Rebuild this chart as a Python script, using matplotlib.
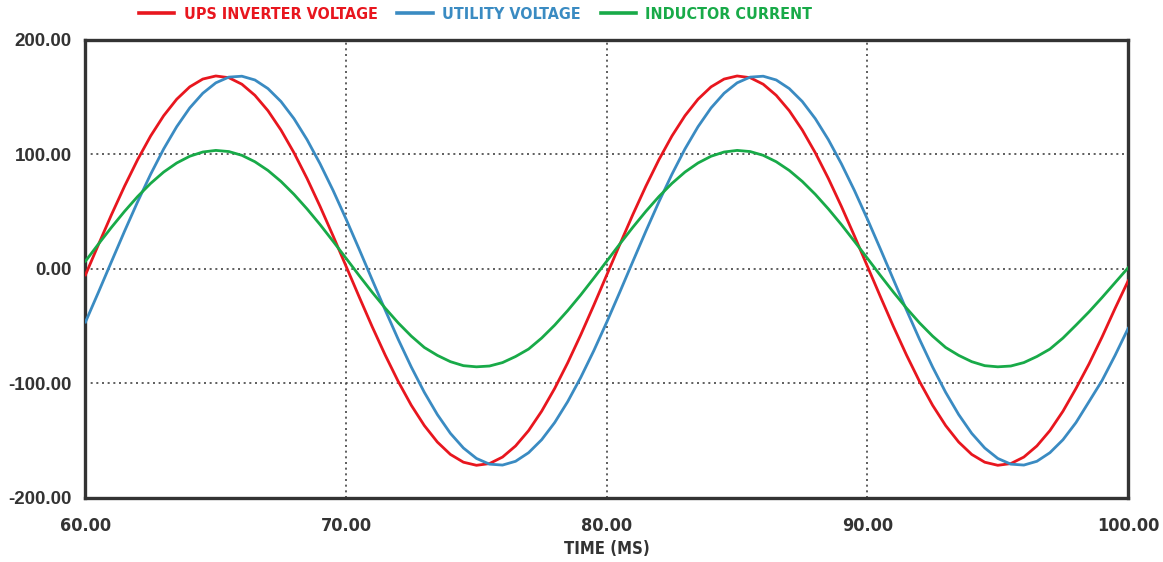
import matplotlib
matplotlib.use("Agg")
import matplotlib.pyplot as plt
import numpy as np

# Время, мс (шаг 0.5 мс)
time_ms = np.arange(60.0, 100.01, 0.5)

# Напряжение инвертора ИБП
ups_inverter_voltage = [
    -5.2, 21.4, 47.5, 72.3, 95.4, 116.1, 133.8, 148.2, 159.0, 165.8,
    168.5, 167.0, 161.3, 151.6, 138.2, 121.3, 101.4, 79.0, 54.6, 28.8,
    2.2, -24.4, -50.5, -75.3, -98.4, -119.1, -136.8, -151.2, -162.0, -168.8,
    -171.5, -170.0, -164.3, -154.6, -141.2, -124.3, -104.4, -82.0, -57.6, -31.8,
    -5.2, 21.4, 47.5, 72.3, 95.4, 116.1, 133.8, 148.2, 159.0, 165.8,
    168.5, 167.0, 161.3, 151.6, 138.2, 121.3, 101.4, 79.0, 54.6, 28.8,
    2.2, -24.4, -50.5, -75.3, -98.4, -119.1, -136.8, -151.2, -162.0, -168.8,
    -171.5, -170.0, -164.3, -154.6, -141.2, -124.3, -104.4, -83.0, -59.5, -34.5,
    -10.5,
]

# Напряжение сети
utility_voltage = [
    -46.4, -20.2, 6.5, 33.0, 58.6, 82.7, 104.8, 124.2, 140.6, 153.4,
    162.5, 167.5, 168.3, 165.0, 157.5, 146.2, 131.2, 112.9, 91.8, 68.5,
    43.4, 17.2, -9.5, -36.0, -61.6, -85.7, -107.8, -127.2, -143.6, -156.4,
    -165.5, -170.5, -171.3, -168.0, -160.5, -149.2, -134.2, -115.9, -94.8, -71.5,
    -46.4, -20.2, 6.5, 33.0, 58.6, 82.7, 104.8, 124.2, 140.6, 153.4,
    162.5, 167.5, 168.3, 165.0, 157.5, 146.2, 131.2, 112.9, 91.8, 68.5,
    43.4, 17.2, -9.5, -36.0, -61.6, -85.7, -107.8, -127.2, -143.6, -156.4,
    -165.5, -170.5, -171.3, -168.0, -160.5, -149.2, -134.2, -115.9, -97.5, -75.5,
    -52.0,
]

# Ток дросселя
inductor_current = [
    6.8, 21.8, 36.4, 50.3, 63.2, 74.7, 84.6, 92.5, 98.4, 102.1,
    103.5, 102.5, 99.2, 93.6, 86.0, 76.4, 65.1, 52.4, 38.7, 24.1,
    9.2, -5.8, -20.4, -34.3, -47.2, -58.7, -68.6, -75.5, -81.0, -84.5,
    -85.5, -84.8, -81.8, -76.5, -70.0, -60.4, -49.1, -36.4, -22.7, -8.1,
    6.8, 21.8, 36.4, 50.3, 63.2, 74.7, 84.6, 92.5, 98.4, 102.1,
    103.5, 102.5, 99.2, 93.6, 86.0, 76.4, 65.1, 52.4, 38.7, 24.1,
    9.2, -5.8, -20.4, -34.3, -47.2, -58.7, -68.6, -75.5, -81.0, -84.5,
    -85.5, -84.8, -81.8, -76.5, -70.0, -60.4, -49.1, -37.5, -25.0, -12.0,
    1.0,
]

x_ticks = [60, 70, 80, 90, 100]
y_ticks = [-200, -100, 0, 100, 200]

narrow = {"family": "DejaVu Sans", "stretch": "condensed", "weight": "bold"}

fig = plt.figure(figsize=(11.63, 5.62), dpi=100)
ax = fig.add_axes([0.0735, 0.114, 0.8965, 0.815])

ax.plot(time_ms, ups_inverter_voltage, color="#e8161e", lw=2.0,
        label="UPS INVERTER VOLTAGE", zorder=3)
ax.plot(time_ms, utility_voltage, color="#3a8bc2", lw=2.0,
        label="UTILITY VOLTAGE", zorder=3)
ax.plot(time_ms, inductor_current, color="#18aa48", lw=2.0,
        label="INDUCTOR CURRENT", zorder=3)

ax.set_xlim(60, 100)
ax.set_ylim(-200, 200)
ax.set_xticks(x_ticks)
ax.set_yticks(y_ticks)
ax.set_xticklabels([f"{v:.2f}" for v in x_ticks], fontsize=13,
                   color="#333333", **narrow)
ax.set_yticklabels([f"{v:.2f}" for v in y_ticks], family="Liberation Sans",
                   fontweight="bold", fontsize=13.5, color="#333333")
ax.tick_params(axis="both", length=0)
ax.tick_params(axis="x", pad=14)
ax.tick_params(axis="y", pad=10)

ax.grid(True, color="#444444", linestyle=(0, (1.2, 2.2)), linewidth=1.2)

for s in ax.spines.values():
    s.set_color("#333333")
    s.set_linewidth(2.4)

ax.set_xlabel("TIME (MS)", fontsize=12, color="#333333", labelpad=3, **narrow)

leg = fig.legend(loc="center", bbox_to_anchor=(0.409, 0.975), ncol=3,
                 frameon=False, handlelength=2.2, handletextpad=0.6,
                 columnspacing=1.25, borderaxespad=0.0,
                 prop={"size": 11.5, **narrow},
                 labelcolor="linecolor")
for line in leg.get_lines():
    line.set_linewidth(2.6)

fig.savefig("out.png", dpi=100)
